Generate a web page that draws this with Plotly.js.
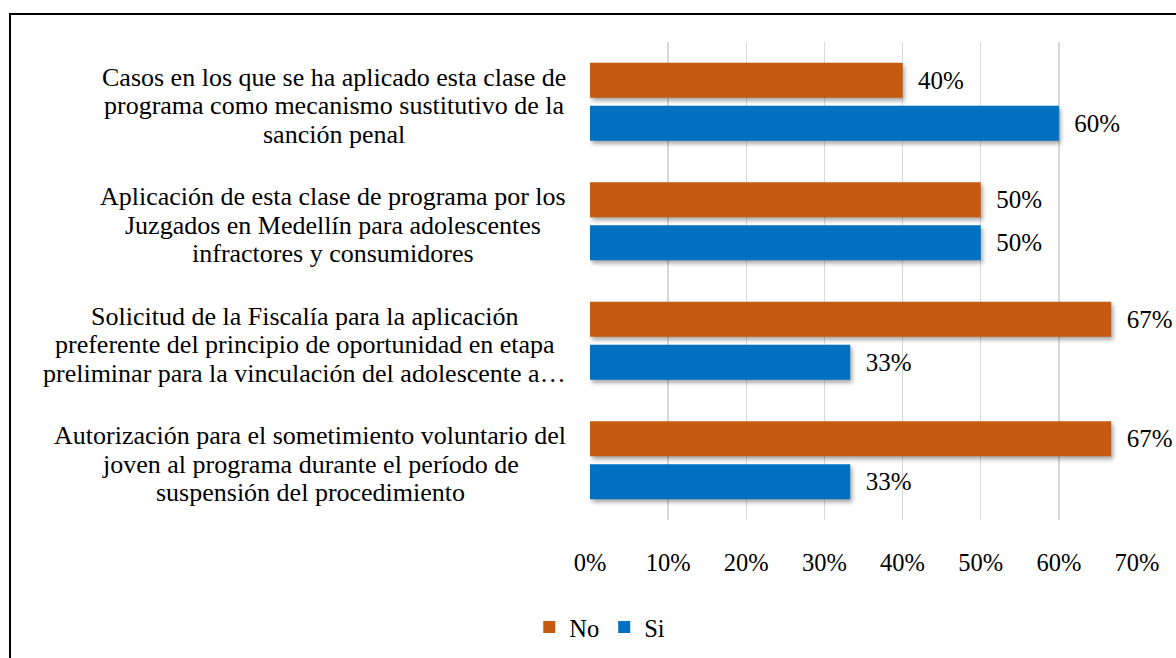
<!DOCTYPE html>
<html>
<head>
<meta charset="utf-8">
<script src="https://cdn.plot.ly/plotly-3.0.1.min.js"></script>
<style>
  html, body { margin: 0; padding: 0; background: #fff; }
  #wrap { position: relative; width: 1176px; height: 658px; }
  #chart { width: 1176px; height: 658px; }
  #frame { position: absolute; left: 9px; top: 13px; width: 1200px; height: 700px;
           border-top: 2px solid #000; border-left: 2px solid #000; pointer-events: none; }
  .barlayer .point path { filter: drop-shadow(2px 3px 2px rgba(0,0,0,0.35)); }
</style>
</head>
<body>
<div id="wrap">
  <div id="chart"></div>
  <div id="frame"></div>
</div>
<script>
const categories = [
  "Casos en los que se ha aplicado esta clase de<br>programa como mecanismo sustitutivo de la<br>sanción penal",
  "Aplicación de esta clase de programa por los<br>Juzgados en Medellín para adolescentes<br>infractores y consumidores",
  "Solicitud de la Fiscalía para la aplicación<br>preferente del principio de oportunidad en etapa<br>preliminar para la vinculación del adolescente a…",
  "Autorización para el sometimiento voluntario del<br>joven al programa durante el período de<br>suspensión del procedimiento"
];
const noValues = [0.40, 0.50, 0.667, 0.667];
const siValues = [0.60, 0.50, 0.333, 0.333];
const noLabels = ["40%", "50%", "67%", "67%"];
const siLabels = ["60%", "50%", "33%", "33%"];
const tickVals = [0, 0.1, 0.2, 0.3, 0.4, 0.5, 0.6, 0.7];
const tickText = ["0%", "10%", "20%", "30%", "40%", "50%", "60%", "70%"];

const FONT = "Liberation Serif";
const CAT_SIZE = 26;
const LBL_SIZE = 25;
const TICK_SIZE = 24.5;
const textColor = "#000000";

const W = 1176, H = 658;
const M = { l: 590, r: 39, t: 42, b: 138 };
const plotW = W - M.l - M.r;
const labelRight = 566;     // px: right edge of category label blocks
const lineGap = 28.5;       // px between label lines

const traces = [
  {
    type: "bar", orientation: "h", name: "No",
    y: categories, x: noValues, text: noLabels,
    texttemplate: "\u2002%{text}",
    textposition: "outside", cliponaxis: false,
    textfont: { family: FONT, size: LBL_SIZE, color: textColor },
    marker: { color: "#C55A11" }, hoverinfo: "skip"
  },
  {
    type: "bar", orientation: "h", name: "Si",
    y: categories, x: siValues, text: siLabels,
    texttemplate: "\u2002%{text}",
    textposition: "outside", cliponaxis: false,
    textfont: { family: FONT, size: LBL_SIZE, color: textColor },
    marker: { color: "#0070C0" }, hoverinfo: "skip"
  }
];

const ctx = document.createElement("canvas").getContext("2d");
ctx.font = CAT_SIZE + "px '" + FONT + "'";
const annotations = [];
categories.forEach(c => {
  const lines = c.split("<br>");
  const maxW = Math.max(...lines.map(s => ctx.measureText(s).width));
  const centerPx = labelRight - maxW / 2;
  const n = lines.length;
  lines.forEach((s, i) => {
    annotations.push({
      xref: "paper", yref: "y", x: (centerPx - M.l) / plotW, y: c,
      xanchor: "center", yanchor: "middle",
      yshift: ((n - 1) / 2 - i) * lineGap - 4,
      text: s, showarrow: false,
      font: { family: FONT, size: CAT_SIZE, color: textColor }
    });
  });
});

const layout = {
  width: W, height: H,
  margin: M,
  paper_bgcolor: "#ffffff", plot_bgcolor: "#ffffff",
  barmode: "group", bargap: 0.28, bargroupgap: 0.19,
  font: { family: FONT, size: TICK_SIZE, color: textColor },
  xaxis: {
    range: [0, 0.7], tickvals: tickVals, ticktext: tickText,
    showgrid: true, gridcolor: "#d9d9d9", gridwidth: 1.5,
    zeroline: false, showline: false, ticks: "",
    ticklabelstandoff: 25,
    tickfont: { family: FONT, size: TICK_SIZE, color: textColor }
  },
  yaxis: {
    type: "category", autorange: "reversed", showticklabels: false,
    showgrid: false, zeroline: false, showline: false, ticks: ""
  },
  showlegend: true,
  legend: {
    orientation: "h", xref: "container", x: 0.51, xanchor: "center",
    yref: "container", y: 0.047, yanchor: "middle",
    font: { family: FONT, size: TICK_SIZE, color: textColor },
    itemwidth: 30, tracegroupgap: 0
  },
  annotations: annotations
};

Plotly.newPlot("chart", traces, layout, { displayModeBar: false, staticPlot: true });
</script>
</body>
</html>
